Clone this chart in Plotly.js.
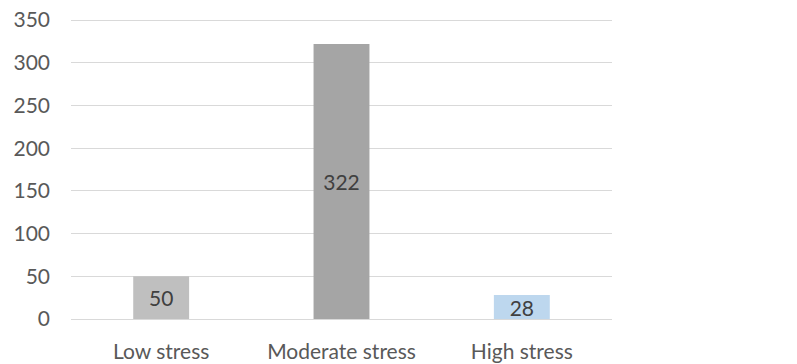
<!DOCTYPE html>
<html>
<head>
<meta charset="utf-8">
<script src="https://cdn.plot.ly/plotly-3.0.1.min.js"></script>
<style>html,body{margin:0;padding:0;background:#fff;}#chart{width:797px;height:364px;}</style>
</head>
<body>
<div id="chart"></div>
<script>
const categories = ["Low stress", "Moderate stress", "High stress"];
const counts = [50, 322, 28];
const barColors = ["#bfbfbf", "#a5a5a5", "#bdd7ee"];
const yTicks = [0, 50, 100, 150, 200, 250, 300, 350];

const trace = {
  type: "bar",
  x: categories,
  y: counts,
  marker: {color: barColors, line: {width: 0}},
  text: counts.map(String),
  textposition: "inside",
  insidetextanchor: "middle",
  textangle: 0,
  constraintext: "none",
  textfont: {family: "Lato, 'Open Sans', sans-serif", size: 21, color: "#404040"},
  hoverinfo: "none"
};

const layout = {
  width: 797,
  height: 364,
  margin: {l: 71, r: 185, t: 19, b: 45, pad: 0},
  paper_bgcolor: "#ffffff",
  plot_bgcolor: "#ffffff",
  showlegend: false,
  bargap: 0.69,
  font: {family: "Lato, 'Open Sans', sans-serif", size: 21, color: "#595959"},
  xaxis: {
    type: "category",
    showgrid: false,
    zeroline: false,
    showline: true,
    linecolor: "#d9d9d9",
    linewidth: 1,
    ticks: "",
    ticklabelstandoff: 14,
    tickfont: {size: 21, color: "#595959"}
  },
  yaxis: {
    range: [0, 351.2],
    tickvals: yTicks,
    ticktext: yTicks.map(String),
    showgrid: true,
    gridcolor: "#d9d9d9",
    gridwidth: 1,
    zeroline: false,
    showline: false,
    ticks: "",
    ticklabelstandoff: 20,
    tickfont: {size: 21, color: "#595959"}
  }
};

Plotly.newPlot("chart", [trace], layout, {staticPlot: true, displayModeBar: false});
</script>
</body>
</html>
